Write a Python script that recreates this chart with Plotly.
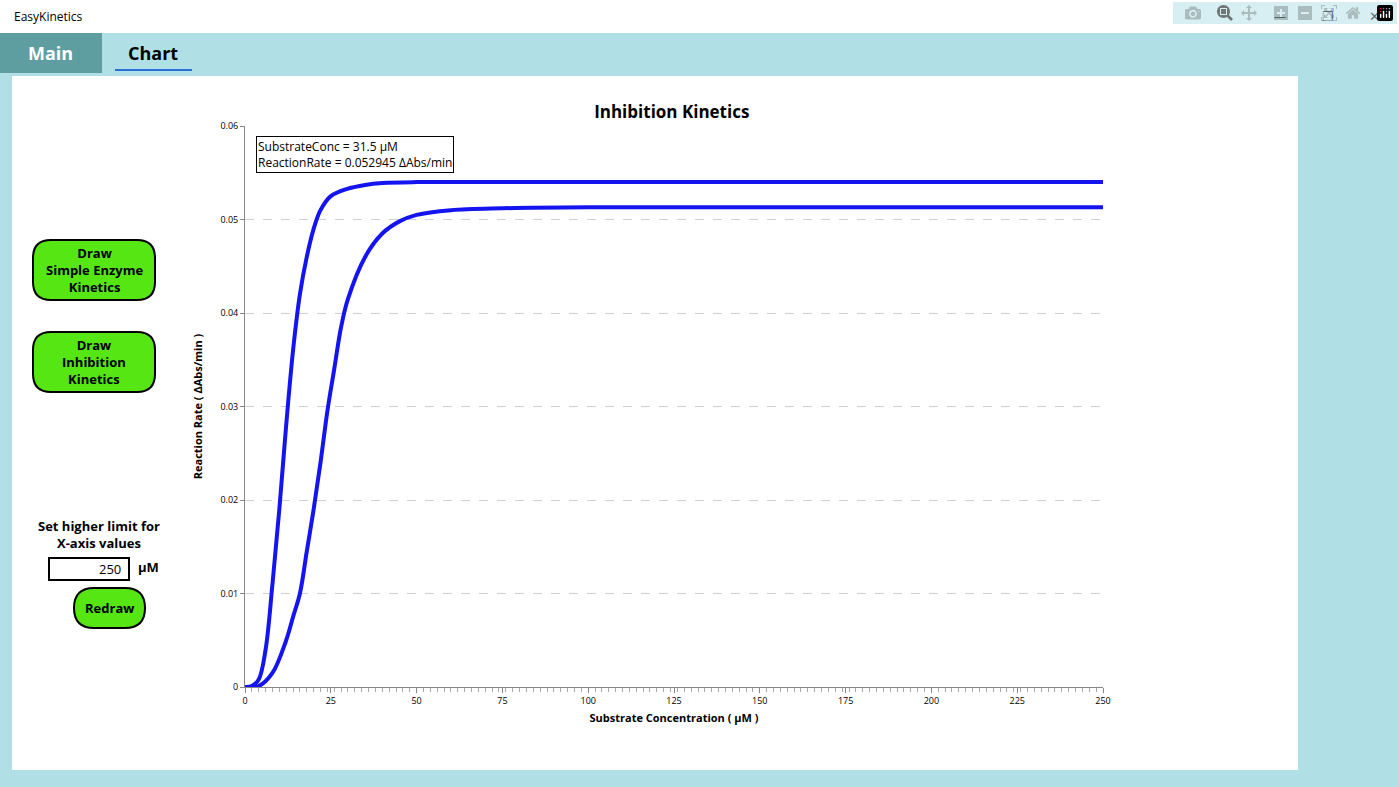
import plotly.graph_objects as go

# values
conc_a = [0, 2, 4, 6, 8, 10, 12, 14, 16, 18, 20, 22, 25, 30, 35, 40, 50, 75, 100, 150, 200, 250]
rate_a = [0, 0.0001, 0.0008, 0.004, 0.011, 0.019, 0.028, 0.036, 0.042, 0.046, 0.049, 0.051,
          0.0525, 0.0533, 0.0537, 0.0539, 0.054, 0.054, 0.054, 0.054, 0.054, 0.054]
conc_b = [0, 4, 8, 12, 14, 16, 18, 20, 22, 24, 26, 28, 30, 35, 40, 45, 50, 60, 75, 100, 150, 200, 250]
rate_b = [0, 0.0001, 0.0015, 0.005, 0.0075, 0.010, 0.0145, 0.019, 0.024, 0.0295, 0.034, 0.0385,
          0.0415, 0.046, 0.0485, 0.0498, 0.0505, 0.051, 0.0512, 0.0513, 0.0513, 0.0513, 0.0513]
x_ticks = [0, 25, 50, 75, 100, 125, 150, 175, 200, 225, 250]
y_ticks = [0, 0.01, 0.02, 0.03, 0.04, 0.05, 0.06]

W, H = 1399, 787
L, R, T, B = 245, 1103, 126, 687


def px(x):
    return (x - L) / (R - L)


def py(y):
    return (B - y) / (B - T)


def rounded(x0, y0, x1, y1, r):
    a0, a1, b0, b1 = px(x0), px(x1), py(y1), py(y0)
    rx, ry = r / (R - L), r / (B - T)
    return (f"M{a0+rx},{b0} L{a1-rx},{b0} Q{a1},{b0} {a1},{b0+ry} L{a1},{b1-ry} "
            f"Q{a1},{b1} {a1-rx},{b1} L{a0+rx},{b1} Q{a0},{b1} {a0},{b1-ry} "
            f"L{a0},{b0+ry} Q{a0},{b0} {a0+rx},{b0} Z")


fig = go.Figure()
for xs, ys in [(conc_a, rate_a), (conc_b, rate_b)]:
    fig.add_trace(go.Scatter(x=xs, y=ys, mode='lines', line_shape='spline',
                             line=dict(color='#1414f0', width=4), showlegend=False))

shapes = []
annots = []


def box(x0, y0, x1, y1, fill, line=None, lw=0, layer='below'):
    shapes.append(dict(type='rect', xref='paper', yref='paper', x0=px(x0), x1=px(x1),
                       y0=py(y1), y1=py(y0), fillcolor=fill, layer=layer,
                       line=dict(color=line or fill, width=lw)))


def text(x, y, s, size=13, bold=False, color='black', anchor='center'):
    annots.append(dict(xref='paper', yref='paper', x=px(x), y=py(y), text=f"<b>{s}</b>" if bold else s,
                       showarrow=False, xanchor=anchor, yanchor='middle',
                       font=dict(size=size, color=color)))


box(0, 0, W, 33, 'white')
box(0, 33, 102, 73, '#5f9ea0')
box(12, 76, 1298, 770, 'white')
box(115, 69, 192, 71, '#2a6fd6')
text(12, 16, 'EasyKinetics', 12, anchor='left')
text(1280, 16, '—', 12)
text(1328, 16, '❐', 13)
text(1374, 16, '✕', 13)
text(50, 53, 'Main', 18, True, 'white')
text(153, 53, 'Chart', 18, True)

for (y0, y1, lines) in [(240, 300, 'Draw<br>Simple Enzyme<br>Kinetics'),
                        (332, 392, 'Draw<br>Inhibition<br>Kinetics')]:
    shapes.append(dict(type='path', xref='paper', yref='paper', path=rounded(33, y0, 155, y1, 18),
                       fillcolor='#55e614', line=dict(color='black', width=2)))
    text(94, (y0 + y1) / 2, lines, 13, True)
shapes.append(dict(type='path', xref='paper', yref='paper', path=rounded(74, 588, 145, 628, 20),
                   fillcolor='#55e614', line=dict(color='black', width=2)))
text(109, 608, 'Redraw', 13, True)
text(99, 534, 'Set higher limit for<br>X-axis values', 13, True)
box(49, 558, 129, 580, 'white', 'black', 2, 'below')
text(123, 569, '250', 13, anchor='right')
text(136, 567, 'μM', 13, True, anchor='left')

annots.append(dict(xref='paper', yref='paper', x=px(256), y=py(136), xanchor='left', yanchor='top',
                   showarrow=False, align='left', bordercolor='black', borderwidth=1, borderpad=1,
                   bgcolor='white',
                   text='SubstrateConc = 31.5 μM<br>ReactionRate = 0.052945 ΔAbs/min',
                   font=dict(size=12, color='black')))

fig.update_layout(
    width=W, height=H, margin=dict(l=L, r=W - R, t=T, b=H - B),
    paper_bgcolor='#b0e0e6', plot_bgcolor='white',
    font=dict(family='Open Sans, Segoe UI, sans-serif', color='black'),
    title=dict(text='<b>Inhibition Kinetics</b>', x=px(657), xanchor='center', y=1 - 112 / H,
               yanchor='middle', font=dict(size=17)),
    shapes=shapes, annotations=annots,
)
fig.update_xaxes(range=[0, 250], tickvals=x_ticks, showgrid=False, showline=True, linecolor='#888',
                 ticks='outside', ticklen=5, tickcolor='#888', tickfont=dict(size=9),
                 minor=dict(dtick=2, ticks='outside', ticklen=4, tickcolor='#aaa'),
                 title=dict(text='<b>Substrate Concentration ( μM )</b>', font=dict(size=11), standoff=8),
                 zeroline=False)
fig.update_yaxes(range=[0, 0.06], tickvals=y_ticks, ticktext=['0'] + [f"{v:.2f}" for v in y_ticks[1:]],
                 showgrid=True, gridcolor='#d0d0d0', griddash='dash', showline=True, linecolor='#888',
                 ticks='outside', ticklen=4, tickcolor='#888', tickfont=dict(size=9),
                 title=dict(text='<b>Reaction Rate ( ΔAbs/min )</b>', font=dict(size=11)),
                 zeroline=False)

fig.write_html("out.html", post_script="document.body.style.margin='0';")
